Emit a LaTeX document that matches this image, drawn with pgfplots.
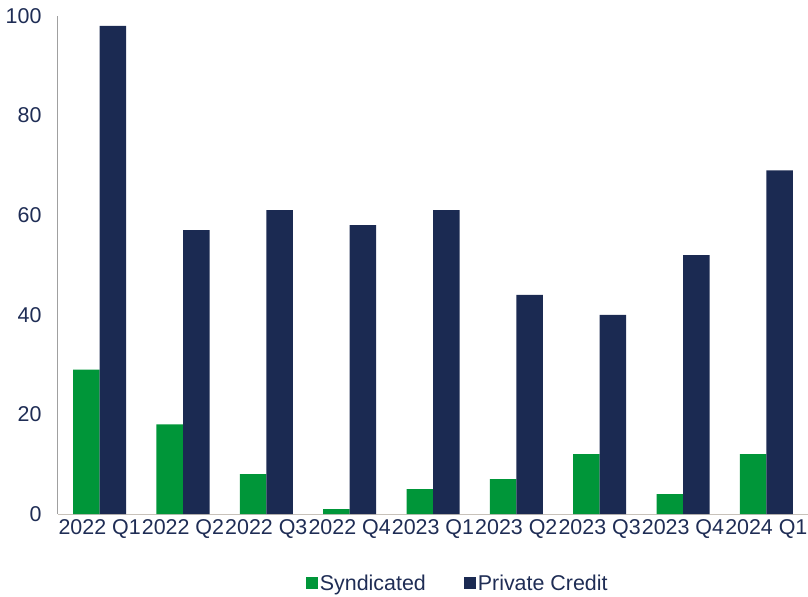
\documentclass[border=0pt]{standalone}
\usepackage{pgfplots}
\pgfplotsset{compat=1.18}
\usepackage{fontspec}
\setmainfont{Liberation Sans}
\definecolor{synd}{RGB}{0,150,57}
\definecolor{pcred}{RGB}{27,42,82}
\definecolor{txt}{RGB}{31,45,85}
\definecolor{xax}{RGB}{200,194,186}
\definecolor{yax}{RGB}{160,160,160}
\begin{document}
\begin{tikzpicture}
\begin{axis}[
  at={(0,0)}, anchor=south west,
  scale only axis, width=750bp, height=498bp,
  xmin=-0.5, xmax=8.5, ymin=0, ymax=100,
  ybar=0pt, bar width=26.5bp,
  xtick={0,...,8},
  xticklabels={2022 Q1,2022 Q2,2022 Q3,2022 Q4,2023 Q1,2023 Q2,2023 Q3,2023 Q4,2024 Q1},
  ytick={0,20,...,100},
  axis x line*=bottom, axis y line*=left,
  x axis line style={draw=xax, line width=1bp, -},
  y axis line style={draw=yax, line width=1bp, -},
  major tick length=0pt, tick style={draw=none},
  tick label style={font=\fontsize{21.5}{25}\selectfont, text=txt},
  xticklabel style={yshift=-2bp},
  yticklabel style={xshift=-13bp},
  /pgf/number format/assume math mode=true,
  legend style={at={(0.533,-0.1386)}, anchor=center, draw=none, fill=none,
    legend columns=2, font=\fontsize{21.5}{25}\selectfont, text=txt,
    /tikz/every even column/.append style={column sep=36bp}},
  legend image code/.code={\fill[#1] (0bp,-6bp) rectangle (12bp,6bp);},
]
\addplot[fill=synd, draw=none] coordinates {
  (0,29) (1,18) (2,8) (3,1) (4,5) (5,7) (6,12) (7,4) (8,12)};
\addplot[fill=pcred, draw=none] coordinates {
  (0,98) (1,57) (2,61) (3,58) (4,61) (5,44) (6,40) (7,52) (8,69)};
\legend{Syndicated, Private Credit}
\end{axis}
\pgfresetboundingbox
\path (-58bp,-83bp) rectangle (750bp,514bp);
\end{tikzpicture}
\end{document}
